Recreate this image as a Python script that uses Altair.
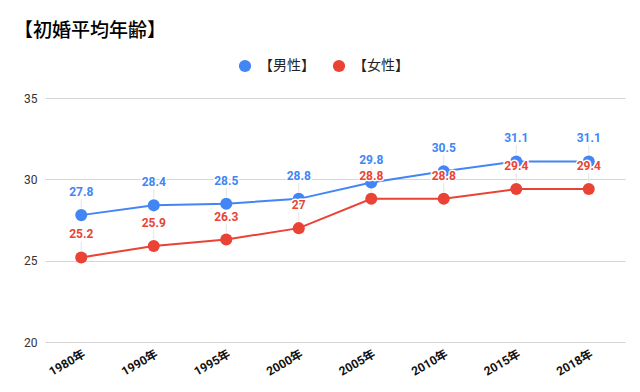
import altair as alt
import pandas as pd

years = ["1980年", "1990年", "1995年", "2000年", "2005年", "2010年", "2015年", "2018年"]
male = [27.8, 28.4, 28.5, 28.8, 29.8, 30.5, 31.1, 31.1]
female = [25.2, 25.9, 26.3, 27, 28.8, 28.8, 29.4, 29.4]
series = ["【男性】", "【女性】"]
colors = ["#4285F4", "#EA4335"]

rows = []
for s, vals in zip(series, [male, female]):
    for y, v in zip(years, vals):
        rows.append({"year": y, "series": s, "value": v, "label": f"{v:g}"})
df = pd.DataFrame(rows)

FONT = "Roboto, Noto Sans CJK JP, sans-serif"
CJK = "Noto Sans CJK JP, sans-serif"

x = alt.X("year:N", sort=years, title=None,
          scale=alt.Scale(type="point", padding=0.5),
          axis=alt.Axis(labelAngle=-30, domain=False, ticks=False, grid=False,
                        labelFontSize=12, labelColor="#111", labelPadding=6,
                        labelFont=FONT, labelFontWeight="bold"))
y = alt.Y("value:Q", title=None,
          scale=alt.Scale(domain=[20, 35], nice=False, zero=False),
          axis=alt.Axis(values=[20, 25, 30, 35], domain=False, ticks=False,
                        labelFontSize=12, labelColor="#333", labelPadding=8,
                        gridColor="#d6d6d6", gridWidth=1.2, labelFont=FONT))
color = alt.Color("series:N", sort=series,
                  scale=alt.Scale(domain=series, range=colors),
                  legend=alt.Legend(title=None, orient="none", direction="horizontal",
                                    legendX=193, legendY=-39,
                                    symbolType="circle", symbolSize=150,
                                    symbolStrokeWidth=0, labelFontSize=14,
                                    labelFont=CJK, labelColor="#222",
                                    columnPadding=17, labelOffset=7))

base = alt.Chart(df).encode(x=x, y=y, color=color)

leaders = base.mark_rule(strokeWidth=1, yOffset=-7, y2Offset=-16).encode(
    y2="value:Q", color=alt.value("#e3e3e3"))
lines = base.mark_line(strokeWidth=2)
points = base.mark_circle(size=145, opacity=1)
halo = base.mark_text(dy=-23, fontSize=12, fontWeight="bold", font=FONT,
                      stroke="white", strokeWidth=3, strokeJoin="round").encode(
    text="label:N", color=alt.value("white"))
labels = base.mark_text(dy=-23, fontSize=12, fontWeight="bold", font=FONT).encode(text="label:N")

chart = alt.layer(leaders, lines, points, halo, labels).properties(
    width=580, height=244,
    autosize=alt.AutoSizeParams(type="none"),
    padding={"left": 37, "top": 90, "right": 7, "bottom": 42},
    title=alt.TitleParams("【初婚平均年齢】", anchor="start", frame="group",
                          fontSize=19, fontWeight=500, font=CJK, color="#000",
                          dx=-31, offset=18),
).configure_view(stroke=None)

chart.save("out.html", embed_options={"renderer": "svg", "actions": False})
